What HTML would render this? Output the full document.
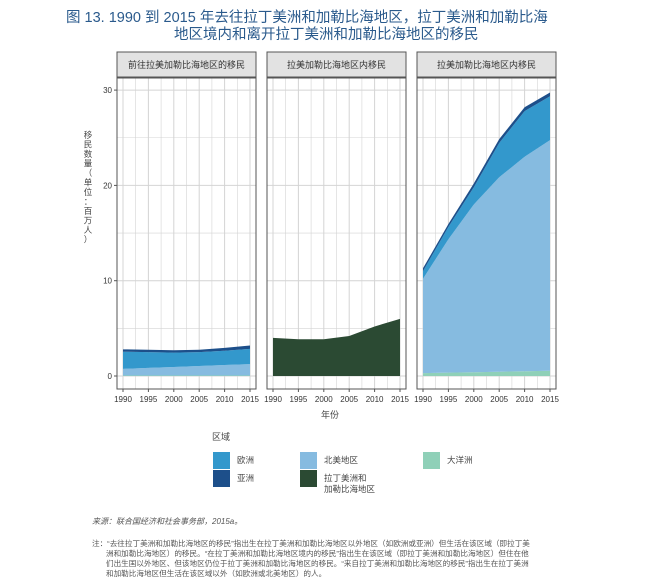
<!DOCTYPE html>
<html><head><meta charset="utf-8"><style>
body{margin:0;background:#fff;width:652px;height:582px;overflow:hidden;font-family:"Liberation Sans","Noto Sans CJK SC",sans-serif}
svg text{font-family:"Liberation Sans","Noto Sans CJK SC",sans-serif}
</style></head><body>
<svg id="c" width="652" height="582">
<text x="66" y="22" font-size="14.5" fill="#2a5a8c">图 13.   1990 到 2015 年去往拉丁美洲和加勒比海地区，拉丁美洲和加勒比海</text>
<text x="174" y="39" font-size="14.5" fill="#2a5a8c">地区境内和离开拉丁美洲和加勒比海地区的移民</text>
<text x="330" y="418" font-size="9" fill="#444" text-anchor="middle">年份</text>
<text x="212" y="440" font-size="9" fill="#444">区域</text>
<text x="92" y="524" font-size="8" fill="#555" font-style="italic">来源：联合国经济和社会事务部，2015a。</text>
<g font-size="7.6" fill="#555">
<text x="92" y="546">注：“去往拉丁美洲和加勒比海地区的移民”指出生在拉丁美洲和加勒比海地区以外地区（如欧洲或亚洲）但生活在该区域（即拉丁美</text>
<text x="106" y="556">洲和加勒比海地区）的移民。“在拉丁美洲和加勒比海地区境内的移民”指出生在该区域（即拉丁美洲和加勒比海地区）但住在他</text>
<text x="106" y="566">们出生国以外地区、但该地区仍位于拉丁美洲和加勒比海地区的移民。“来自拉丁美洲和加勒比海地区的移民”指出生在拉丁美洲</text>
<text x="106" y="576">和加勒比海地区但生活在该区域以外（如欧洲或北美地区）的人。</text>
</g>
</svg>
<script>
const years=[1990,1995,2000,2005,2010,2015];
const yTicks=[0,10,20,30];
const xTickLabels=["1990","1995","2000","2005","2010","2015"];
const panelTitles=["前往拉美加勒比海地区的移民","拉美加勒比海地区内移民","拉美加勒比海地区内移民"];
// panel 1 (to LAC) stacked values, millions
const p1Oceania=[0.05,0.05,0.05,0.05,0.05,0.05];
const p1NorthAmerica=[0.7,0.8,0.9,1.0,1.1,1.2];
const p1Europe=[1.8,1.65,1.5,1.45,1.5,1.6];
const p1Asia=[0.25,0.25,0.25,0.25,0.3,0.35];
// panel 2 (within LAC)
const p2LAC=[4.0,3.85,3.85,4.2,5.2,6.0];
// panel 3 (from LAC)
const p3Oceania=[0.3,0.35,0.4,0.45,0.5,0.55];
const p3NorthAmerica=[9.9,14.0,17.6,20.4,22.5,24.2];
const p3Europe=[0.8,1.3,1.8,3.6,4.8,4.6];
const p3Asia=[0.3,0.3,0.4,0.4,0.4,0.4];
const legendLabels=["欧洲","亚洲","北美地区","拉丁美洲和\n加勒比海地区","大洋洲"];
const C={eu:"#3398cc",as:"#1d4f8a",na:"#86bbe0",lac:"#2b4a33",oc:"#8fd0b8"};
const svg=document.getElementById('c');const NS="http://www.w3.org/2000/svg";
function mk(t,a,p){const e=document.createElementNS(NS,t);for(const k in a)e.setAttribute(k,a[k]);(p||svg).appendChild(e);return e;}
const panelX=[117,267,417],pw=139,pTop=78,pBot=389;
const yScale=v=>376-v*9.53;
function xf(i){const x0=panelX[i]+6,x1=panelX[i]+133;return yr=>x0+(yr-1990)/25*(x1-x0);}
function stack(arrs){let base=years.map(()=>0);return arrs.map(a=>{const lo=base.slice();base=base.map((b,i)=>b+a[i]);return[lo,base.slice()];});}
function area(g,x,lo,hi,col,name){let d="";years.forEach((yr,i)=>d+=(i?"L":"M")+x(yr)+","+yScale(hi[i]));for(let i=years.length-1;i>=0;i--)d+="L"+x(years[i])+","+yScale(lo[i]);const p=mk('path',{d:d+"Z",fill:col},g);

}
const series=[
 [[p1Oceania,C.oc,'oceania'],[p1NorthAmerica,C.na,'north-america'],[p1Europe,C.eu,'europe'],[p1Asia,C.as,'asia']],
 [[p2LAC,C.lac,'latin-america-caribbean']],
 [[p3Oceania,C.oc,'oceania'],[p3NorthAmerica,C.na,'north-america'],[p3Europe,C.eu,'europe'],[p3Asia,C.as,'asia']]];
for(let i=0;i<3;i++){
 const g=mk('g',{});
 
 
 const x=xf(i),px=panelX[i];
 const h=mk('rect',{x:px,y:52,width:pw,height:25,fill:"#e2e2e2",stroke:"#555","stroke-width":1},g);
 
 
 const ht=mk('text',{x:px+pw/2,y:68,"font-size":9,fill:"#333","text-anchor":"middle"},g);ht.textContent=panelTitles[i];
 
 
 for(let v=0;v<=30;v+=5)mk('line',{x1:px,x2:px+pw,y1:yScale(v),y2:yScale(v),stroke:"#d4d4d4","stroke-width":v%10?0.6:1},g);
 for(let yr=1990;yr<=2015;yr+=2.5)mk('line',{x1:x(yr),x2:x(yr),y1:pTop,y2:pBot,stroke:"#d4d4d4","stroke-width":yr%5?0.6:1},g);
 const st=stack(series[i].map(s=>s[0]));
 series[i].forEach((s,k)=>area(g,x,st[k][0],st[k][1],s[1],'area-'+s[2]));
 mk('rect',{x:px,y:pTop,width:pw,height:pBot-pTop,fill:"none",stroke:"#555","stroke-width":1},g);
 years.forEach((yr,k)=>{mk('line',{x1:x(yr),x2:x(yr),y1:pBot,y2:pBot+3,stroke:"#555"},g);const t=mk('text',{x:x(yr),y:pBot+13,"font-size":8,fill:"#333","text-anchor":"middle"},g);t.textContent=xTickLabels[k];
 
 });
}
yTicks.forEach(v=>{mk('line',{x1:114,x2:117,y1:yScale(v),y2:yScale(v),stroke:"#555"});const t=mk('text',{x:112,y:yScale(v)+3,"font-size":8,fill:"#333","text-anchor":"end"});t.textContent=v;
 
 });
const yt="移民数量（单位：百万人）";[...yt].forEach((ch,k)=>{const t=mk('text',{x:88,y:138+k*9.5,"font-size":8.5,fill:"#444","text-anchor":"middle"});t.textContent=ch;
 
 });
const leg=[[213,452,C.eu,0],[213,470,C.as,1],[300,452,C.na,2],[300,470,C.lac,3],[423,452,C.oc,4]];
leg.forEach(l=>{const g=mk('g',{});
 
 
 mk('rect',{x:l[0],y:l[1],width:17,height:17,fill:l[2]},g);
 legendLabels[l[3]].split("\n").forEach((s,j)=>{const t=mk('text',{x:l[0]+24,y:l[1]+11+j*11,"font-size":8.5,fill:"#444"},g);t.textContent=s;});});
</script>
</body></html>
